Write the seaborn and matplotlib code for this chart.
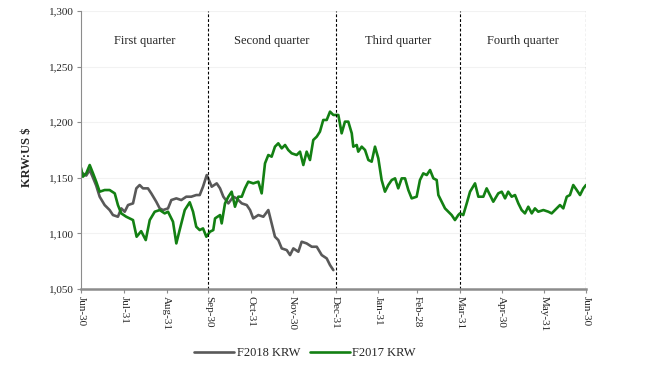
import pandas as pd
import numpy as np
import matplotlib
matplotlib.use("Agg")
import matplotlib.pyplot as plt
import seaborn as sns

# ─────────────────────────────────────────────
# Data (days since Jun-30, KRW per US $)
# ─────────────────────────────────────────────
f2017_days = [0, 1.4, 3.8, 6.3, 8.7, 11, 13.5, 17.1, 20.7, 24.4, 26.7, 29.1, 32.7, 35.2, 37.6,
              40.2, 43.5, 46.8, 49.7, 53.3, 56.9, 60.5, 62.9, 66.5, 68.9, 71.3, 75, 78.6, 81,
              83.3, 85.8, 88.2, 90.6, 93.2, 95.6, 96.9, 100.5, 101.7, 104.1, 106.5, 108.9,
              111.3, 113.7, 116.2, 118.5, 120.9, 124.5, 128.2, 130.6, 133, 135.4, 137.8,
              140.2, 142.6, 145.1, 147.5, 149.8, 152.3, 155.9, 158.3, 160.7, 163.1, 165.5,
              167.9, 170.4, 172.7, 175.1, 177.6, 180, 182.4, 186, 188.4, 190.8, 193.2, 195.7,
              196.8, 199.3, 200.4, 202.9, 205.3, 207.7, 210.1, 212.5, 214.9, 217.3, 219.7,
              222.1, 224.6, 227, 229.3, 231.8, 234.2, 236.6, 239, 242.6, 245, 247.4, 249.9,
              252.3, 254.7, 257.1, 258.3, 260.7, 263.1, 265.5, 267.9, 270.3, 272.7, 273.9,
              276.3, 278.8, 281.2, 284.8, 287.2, 290.8, 293.2, 295.6, 298, 301.6, 304.1,
              306.5, 308.8, 311.3, 313.7, 316.1, 318.5, 320.9, 323.3, 325.8, 328.1, 330.5,
              334.2, 337.8, 340.2, 342.6, 346.2, 348.6, 351.1, 353.4, 355.8, 358.3, 360.7,
              363.1, 365]
f2017_krw = [1159, 1151, 1154, 1161.5, 1154, 1146.5, 1137.5, 1139, 1139, 1136, 1125.5, 1118,
             1115, 1113.5, 1112, 1097, 1102, 1094, 1112, 1119.5, 1121, 1118, 1119.5, 1110.5,
             1091, 1103, 1121, 1128, 1119.5, 1106, 1103, 1104.5, 1097, 1101.5, 1103, 1113.5,
             1116.5, 1109, 1127, 1133, 1137.5, 1124, 1133, 1133, 1140.5, 1146.5, 1145,
             1146.5, 1136, 1163, 1170.5, 1169, 1178, 1181, 1176.5, 1179.5, 1175, 1172,
             1170.5, 1173.5, 1161.5, 1173.5, 1166, 1184, 1187, 1191.5, 1202, 1202, 1209.5,
             1206.5, 1206.5, 1190, 1200.5, 1200.5, 1190, 1178, 1179.5, 1173.5, 1178, 1175,
             1166, 1164.5, 1178, 1167.5, 1148, 1137.5, 1143.5, 1148, 1149.5, 1140.5, 1149.5,
             1149.5, 1139, 1131.5, 1133, 1148, 1154, 1152.5, 1157, 1149.5, 1148, 1134.5,
             1128.5, 1122.5, 1119.5, 1116.5, 1112, 1116.5, 1118, 1116.5, 1127, 1137.5, 1145,
             1133, 1133, 1140.5, 1134.5, 1128.5, 1136, 1137.5, 1131.5, 1137.5, 1133, 1134.5,
             1127, 1121, 1118, 1124, 1118, 1122.5, 1119.5, 1121, 1119.5, 1118, 1121, 1125.5,
             1122.5, 1133, 1134.5, 1143.5, 1139, 1134.5, 1140.5, 1143.5]

f2018_days = [0, 3.8, 6.3, 8.7, 11, 13.5, 17.1, 20.7, 23.1, 26.7, 29.1, 31.6, 34, 37.6, 40,
              42.4, 44.8, 48.4, 50.8, 54.4, 56.9, 59.3, 62.9, 65.3, 68.9, 72.5, 76.1, 79.7,
              83.3, 85.8, 88.2, 90.9, 94.5, 98.1, 100.5, 102.9, 106.5, 110.1, 112.5, 116.2,
              119.8, 122.2, 124.5, 128.2, 131.8, 135.4, 137.8, 140.2, 142.6, 145.1, 148.7,
              151.1, 153.5, 157.1, 159.5, 163.1, 166.8, 170.4, 174, 177.6, 180, 182.4]
f2018_krw = [1155, 1152, 1157, 1150, 1143, 1133, 1125.5, 1121, 1116.5, 1115, 1122.5, 1119.5,
             1125.5, 1127, 1140.5, 1143.5, 1140.5, 1140.5, 1136, 1128.5, 1122.5, 1121,
             1122.5, 1130, 1131.5, 1130, 1133, 1133, 1134.5, 1134.5, 1142, 1152.5, 1142, 1145,
             1140.5, 1133, 1127, 1133, 1131.5, 1127, 1125.5, 1121, 1113.5, 1116.5, 1115, 1121,
             1109, 1097, 1094, 1086.5, 1085, 1080.5, 1086.5, 1083.5, 1092.5, 1091, 1088, 1088,
             1080.5, 1077.5, 1071.5, 1067]

tick_days = [0, 31, 62, 92, 123, 153, 184, 215, 243, 274, 304, 335, 365]
tick_labels = ["Jun-30", "Jul-31", "Aug-31", "Sep-30", "Oct-31", "Nov-30", "Dec-31",
               "Jan-31", "Feb-28", "Mar-31", "Apr-30", "May-31", "Jun-30"]
quarter_ends = [92, 184, 274, 365]
quarter_names = ["First quarter", "Second quarter", "Third quarter", "Fourth quarter"]
quarter_mid = [46, 138, 229, 319.5]

# ─────────────────────────────────────────────
# Figure
# ─────────────────────────────────────────────
sns.set_style("white")
plt.rcParams['font.family'] = ['Liberation Serif', 'DejaVu Serif']

df = pd.concat([
    pd.DataFrame({"day": f2018_days, "krw": f2018_krw, "series": "F2018 KRW"}),
    pd.DataFrame({"day": f2017_days, "krw": f2017_krw, "series": "F2017 KRW"}),
])

fig = plt.figure(figsize=(6.71, 3.73), dpi=100)
ax = fig.add_axes([0.1207, 0.2252, 0.7526, 0.7453])

sns.lineplot(data=df, x="day", y="krw", hue="series", sort=False, estimator=None,
             palette={"F2018 KRW": "#595959", "F2017 KRW": "#138013"},
             linewidth=1.9, ax=ax)

for d in quarter_ends:
    ax.axvline(d, color="black", linestyle=(0, (2.5, 1.8)), linewidth=0.8)
for m, name in zip(quarter_mid, quarter_names):
    ax.text(m, 1273, name, ha="center", va="center", fontsize=9)

ax.set_xlim(0, 365)
ax.set_ylim(1050, 1300)
ax.set_yticks(range(1050, 1301, 50))
ax.set_yticklabels([f"{v:,}" for v in range(1050, 1301, 50)], fontsize=8)
ax.set_xticks(tick_days)
ax.set_xticklabels(tick_labels, rotation=270, fontsize=8)
ax.grid(axis="y", color="#f2f2f2", linewidth=0.8)
ax.set_axisbelow(True)

ax.set_xlabel("")
ax.set_ylabel("KRW:US $", fontsize=9, fontweight="bold")
ax.yaxis.set_label_coords(-0.095, 0.475)

for s in ["top", "right"]:
    ax.spines[s].set_visible(False)
ax.spines["left"].set_color("#8c8c8c")
ax.spines["bottom"].set_color("#8c8c8c")
ax.spines["bottom"].set_linewidth(1.8)
ax.tick_params(axis="both", which="both", length=3, color="#8c8c8c", pad=2,
               bottom=True, left=True)

handles, labels = ax.get_legend_handles_labels()
ax.legend_.remove()
fig.legend(handles, labels, loc="center", bbox_to_anchor=(305 / 671, 1 - 353 / 373),
           ncol=2, frameon=False, fontsize=9, handlelength=3.2, columnspacing=0.8,
           handletextpad=0.2)

fig.savefig("out.png", dpi=100)
